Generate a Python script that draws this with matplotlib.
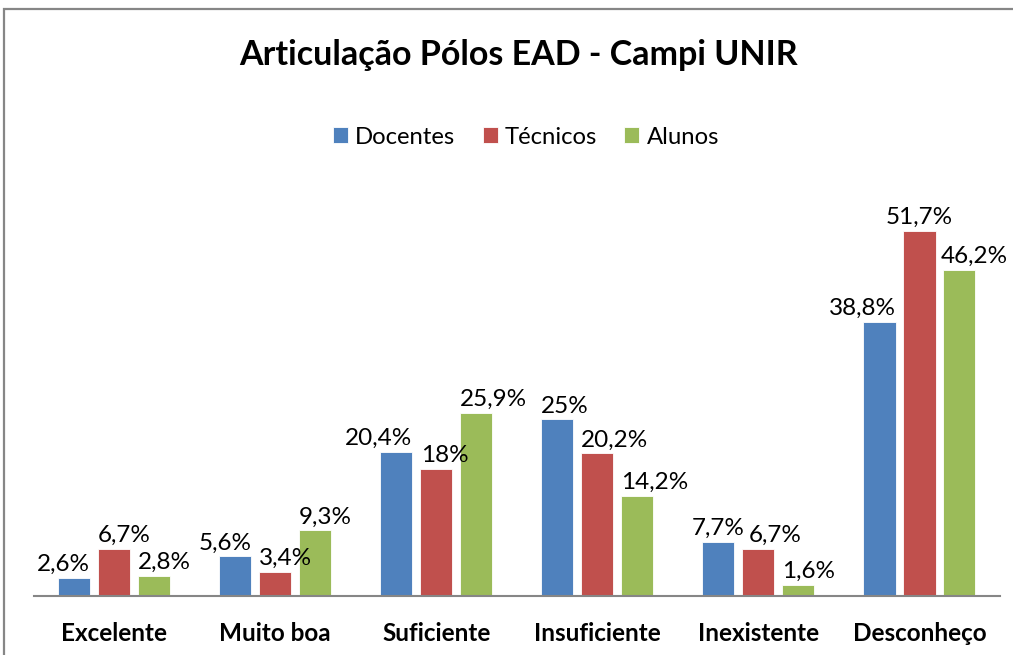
import numpy as np
import matplotlib.pyplot as plt
from matplotlib.patches import Rectangle

plt.rcParams['font.family'] = ['Lato', 'DejaVu Sans']

# dados
categorias = ['Excelente', 'Muito boa', 'Suficiente', 'Insuficiente', 'Inexistente', 'Desconheço']
docentes = [2.6, 5.6, 20.4, 25.0, 7.7, 38.8]
tecnicos = [6.7, 3.4, 18.0, 20.2, 6.7, 51.7]
alunos = [2.8, 9.3, 25.9, 14.2, 1.6, 46.2]
rotulos_doc = ['2,6%', '5,6%', '20,4%', '25%', '7,7%', '38,8%']
rotulos_tec = ['6,7%', '3,4%', '18%', '20,2%', '6,7%', '51,7%']
rotulos_alu = ['2,8%', '9,3%', '25,9%', '14,2%', '1,6%', '46,2%']

# alinhamento dos rotulos (movidos a mao no original) e deslocamento em pontos
alin_doc = ['right', 'right', 'right', 'left', 'center', 'right']
alin_tec = ['left', 'left', 'left', 'left', 'left', 'center']
alin_alu = ['left', 'left', 'left', 'left', 'left', 'left']
desl_doc = [0, 0, 0, 0, 0, 0]
desl_tec = [0, 0, 1, 0, 5, 0]
desl_alu = [0, 0, 0, 0, 0, -2]

cores = ['#4F81BD', '#C0504D', '#9BBB59']

fig = plt.figure(figsize=(10.13, 6.55), dpi=100)
ax = fig.add_axes([0.0331, 0.090, 0.954, 0.647])

x = np.arange(len(categorias))
larg = 0.2
passo = 0.248

series = [('Docentes', docentes, rotulos_doc, alin_doc, desl_doc),
          ('Técnicos', tecnicos, rotulos_tec, alin_tec, desl_tec),
          ('Alunos', alunos, rotulos_alu, alin_alu, desl_alu)]

for i, (nome, vals, rots, alins, desl) in enumerate(series):
    pos = x + (i - 1) * passo
    barras = ax.bar(pos, vals, width=larg, color=cores[i], label=nome,
                    edgecolor='white', linewidth=0.6)
    for b, r, a, d in zip(barras, rots, alins, desl):
        if a == 'left':
            xa = b.get_x()
        elif a == 'right':
            xa = b.get_x() + b.get_width()
        else:
            xa = b.get_x() + b.get_width() / 2
        ax.annotate(r, (xa, b.get_height()), xytext=(d, 5), textcoords='offset points',
                    ha=a, va='baseline', fontsize=17.5, color='black')

ax.set_xlim(-0.5, len(categorias) - 0.5)
ax.set_ylim(0, 60)
ax.set_xticks(x)
ax.set_xticklabels(categorias, fontsize=17.5, fontweight='bold')
ax.tick_params(axis='x', length=0, pad=19)
ax.set_yticks([])
for s in ['top', 'left', 'right']:
    ax.spines[s].set_visible(False)
ax.spines['bottom'].set_color('#868686')
ax.spines['bottom'].set_linewidth(1.5)

fig.text(518 / 1013, 1 - 55 / 655, 'Articulação Pólos EAD - Campi UNIR',
         ha='center', va='center', fontsize=24.5, fontweight='bold')

fig.legend(loc='center', bbox_to_anchor=(526 / 1013, 1 - 137 / 655), ncol=3,
           frameon=False, fontsize=17.2, handlelength=0.62, handleheight=0.62,
           handletextpad=0.3, columnspacing=1.15)

# borda do grafico
fig.patches.append(Rectangle((4 / 1013, -0.05), 1.1, 1.05 - 9 / 655,
                             transform=fig.transFigure, fill=False,
                             edgecolor='#868686', linewidth=1.6))

fig.savefig('out.png', dpi=100)
